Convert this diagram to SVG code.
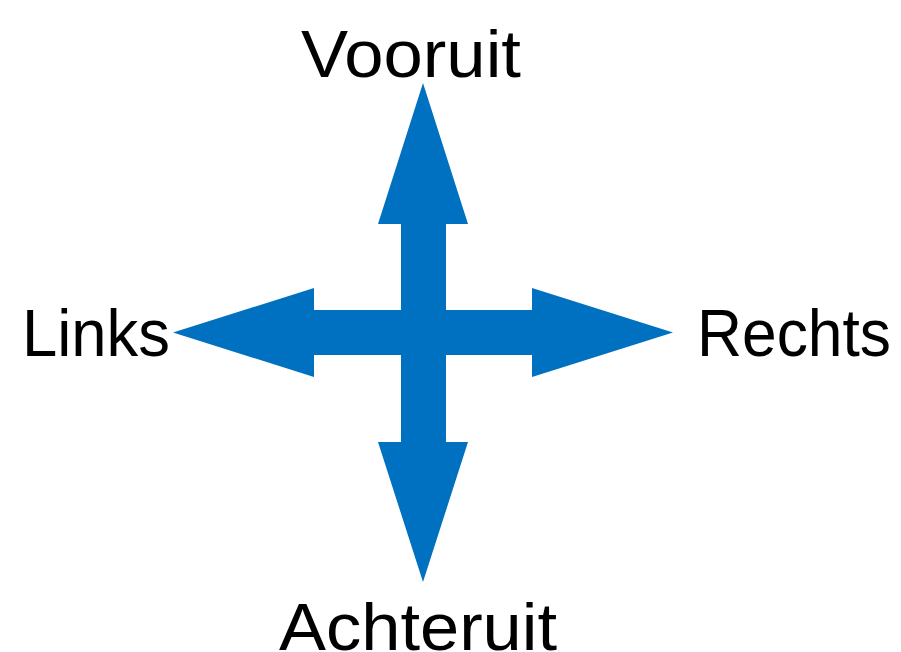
<svg xmlns="http://www.w3.org/2000/svg" width="901" height="652" viewBox="0 0 901 652">
  <style>
    .arrow { fill: #0070C0; }
    .label { font-family: "Liberation Sans", Arial, sans-serif; font-size: 66px; fill: #000; }
  </style>
  <rect width="901" height="652" fill="#fff"/>
  <g id="connectors">
    <!-- four-way cross of block arrows -->
    <path class="arrow" d="M423,83 L468,224 L446,224 L446,310 L532,310 L532,288 L673,332.5 L532,377 L532,355 L446,355 L446,442 L468,442 L423,582 L378,442 L401,442 L401,355 L314,355 L314,377 L173,332.5 L314,288 L314,310 L401,310 L401,224 L378,224 Z"/>
  </g>
  <g id="vooruit"><text class="label" x="301" y="77" textLength="220" lengthAdjust="spacingAndGlyphs">Vooruit</text></g>
  <g id="links"><text class="label" x="22" y="356" textLength="148" lengthAdjust="spacingAndGlyphs">Links</text></g>
  <g id="rechts"><text class="label" x="697" y="356" textLength="194" lengthAdjust="spacingAndGlyphs">Rechts</text></g>
  <g id="achteruit"><text class="label" x="279" y="650" textLength="278" lengthAdjust="spacingAndGlyphs">Achteruit</text></g>
</svg>
